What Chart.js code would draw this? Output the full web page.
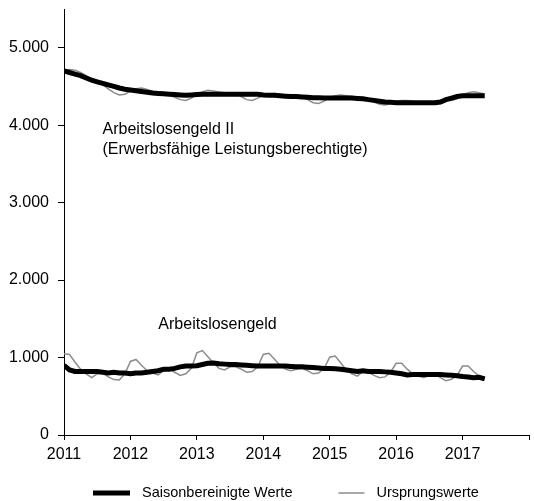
<!DOCTYPE html>
<html>
<head>
<meta charset="utf-8">
<script src="https://cdn.jsdelivr.net/npm/chart.js@4/dist/chart.umd.min.js"></script>
<style>
html,body{margin:0;padding:0;background:#fff;overflow:hidden}
#wrap{width:534px;height:501px;position:relative}
</style>
</head>
<body>
<div id="wrap"><canvas id="chart"></canvas></div>
<script>
// monthly values, Jan 2011 - May 2017 (in thousands of persons)
var startYear = 2011;
var endYear = 2018;
var yearTicks = [2011, 2012, 2013, 2014, 2015, 2016, 2017];
var valueTicks = [0, 1000, 2000, 3000, 4000, 5000];
var seriesNames = ['Saisonbereinigte Werte', 'Ursprungswerte'];

var alg2Sa = [
  4700, 4680, 4660, 4640, 4610, 4580, 4560, 4540, 4520, 4500, 4480, 4465,
  4455, 4445, 4435, 4425, 4415, 4410, 4405, 4400, 4395, 4390, 4385, 4390,
  4395, 4400, 4400, 4400, 4400, 4400, 4400, 4400, 4400, 4400, 4400, 4400,
  4390, 4385, 4385, 4380, 4375, 4370, 4370, 4365, 4360, 4355, 4355, 4350,
  4350, 4350, 4350, 4350, 4350, 4345, 4340, 4330, 4320, 4310, 4300, 4295,
  4290, 4290, 4290, 4290, 4290, 4290, 4290, 4290, 4300, 4330, 4350, 4370,
  4380, 4380, 4380, 4380, 4380
];
var alg2Orig = [
  4700, 4720, 4710, 4680, 4640, 4600, 4560, 4520, 4470, 4420, 4390, 4400,
  4440, 4470, 4480, 4460, 4440, 4420, 4410, 4390, 4360, 4330, 4320, 4350,
  4400, 4430, 4450, 4440, 4430, 4420, 4420, 4410, 4370, 4330, 4320, 4350,
  4390, 4400, 4410, 4400, 4390, 4380, 4380, 4360, 4330, 4290, 4280, 4310,
  4360, 4380, 4390, 4380, 4370, 4360, 4350, 4330, 4300, 4270, 4260, 4280,
  4310, 4320, 4320, 4310, 4300, 4300, 4300, 4300, 4310, 4320, 4320, 4340,
  4390, 4420, 4430, 4420, 4400
];
var alg1Sa = [
  900, 840, 820, 820, 820, 820, 820, 810, 800, 810, 800, 800,
  790, 800, 800, 810, 820, 830, 850, 850, 860, 880, 890, 890,
  895, 910, 925, 930, 920, 915, 910, 910, 905, 900, 895, 890,
  890, 890, 890, 890, 890, 885, 880, 880, 875, 870, 865, 860,
  860, 855, 850, 840, 830, 820, 830, 820, 820, 820, 815, 810,
  800, 790, 775, 780, 780, 780, 780, 780, 780, 775, 770, 765,
  755, 750, 740, 745, 725
];
var alg1Orig = [
  1050, 1040, 940, 850, 790, 740, 790, 800, 750, 715, 710, 790,
  950, 975, 900, 830, 800, 775, 830, 850, 810, 770, 790, 860,
  1060, 1090, 1010, 930, 860, 840, 880, 880, 850, 810, 820, 880,
  1040, 1055, 980, 900, 850, 830, 850, 860, 830, 790, 800, 860,
  1005, 1020, 930, 840, 790, 760, 820, 810, 770, 740, 750, 810,
  925, 925, 850, 790, 760, 740, 770, 780, 740, 700, 720, 770,
  890, 890, 820, 760, 720
];

// text labels inside the plot, anchored in data units
var notes = [
  { text: 'Arbeitslosengeld II', x: 2011.58, y: 3940 },
  { text: '(Erwerbsfähige Leistungsberechtigte)', x: 2011.58, y: 3680 },
  { text: 'Arbeitslosengeld', x: 2012.42, y: 1420 }
];

function toPoints(vals) {
  return vals.map(function (v, i) { return { x: startYear + i / 12, y: v }; });
}

var FONT = '"Liberation Sans", Arial, sans-serif';

var notesPlugin = {
  id: 'notes',
  afterDatasetsDraw: function (chart) {
    var ctx = chart.ctx, sx = chart.scales.x, sy = chart.scales.y;
    ctx.save();
    ctx.font = '16px ' + FONT;
    ctx.fillStyle = '#000';
    ctx.textAlign = 'left';
    ctx.textBaseline = 'middle';
    notes.forEach(function (n) {
      ctx.fillText(n.text, sx.getPixelForValue(n.x), sy.getPixelForValue(n.y));
    });
    ctx.restore();
  }
};

// legend under the axis: line sample + text, two entries on one row
var legendPlugin = {
  id: 'lineLegend',
  afterDraw: function (chart) {
    var ctx = chart.ctx, area = chart.chartArea;
    var ds = chart.data.datasets;
    var lens = [37, 26];
    var y = chart.height - 8;
    var x = area.left + 29;
    ctx.save();
    ctx.font = '14.5px ' + FONT;
    ctx.textBaseline = 'middle';
    ctx.textAlign = 'left';
    for (var i = 0; i < 2; i++) {
      ctx.beginPath();
      ctx.strokeStyle = ds[i].borderColor;
      ctx.lineWidth = ds[i].borderWidth;
      ctx.moveTo(x, y);
      ctx.lineTo(x + lens[i], y);
      ctx.stroke();
      x += lens[i] + 12;
      ctx.fillStyle = '#000';
      ctx.fillText(ds[i].label, x, y);
      x += ctx.measureText(ds[i].label).width + 46;
    }
    ctx.restore();
  }
};

var black = { borderColor: '#000', backgroundColor: '#000', borderWidth: 5, pointRadius: 0, tension: 0, fill: false };
var gray = { borderColor: '#8c8c8c', backgroundColor: '#8c8c8c', borderWidth: 1.5, pointRadius: 0, tension: 0, fill: false };

new Chart(document.getElementById('chart'), {
  type: 'line',
  data: {
    datasets: [
      Object.assign({ label: seriesNames[0], data: toPoints(alg2Sa) }, black),
      Object.assign({ label: seriesNames[1], data: toPoints(alg2Orig) }, gray),
      Object.assign({ label: seriesNames[0], data: toPoints(alg1Sa) }, black),
      Object.assign({ label: seriesNames[1], data: toPoints(alg1Orig) }, gray)
    ]
  },
  options: {
    responsive: true,
    maintainAspectRatio: false,
    animation: false,
    layout: { padding: { top: 0, right: 1, left: 0, bottom: 28 } },
    plugins: {
      tooltip: { enabled: false },
      legend: { display: false }
    },
    scales: {
      x: {
        type: 'linear',
        min: startYear,
        max: endYear,
        afterBuildTicks: function (s) {
          s.ticks = yearTicks.concat([endYear]).map(function (v) { return { value: v }; });
        },
        afterFit: function (s) { s.height = 38; },
        grid: { drawOnChartArea: false, tickLength: 5, color: '#000' },
        border: { display: true, color: '#000', width: 1 },
        ticks: {
          font: { family: FONT, size: 16 },
          color: '#000',
          padding: 5,
          maxRotation: 0,
          callback: function (v) { return yearTicks.indexOf(v) >= 0 ? String(v) : ''; }
        }
      },
      y: {
        min: 0,
        max: 5500,
        afterBuildTicks: function (s) {
          s.ticks = valueTicks.map(function (v) { return { value: v }; });
        },
        afterFit: function (s) {
          s.width = 64;
          s.paddingTop = 9;
          s.paddingBottom = 0;
        },
        grid: { drawOnChartArea: false, tickLength: 6, color: '#000' },
        border: { display: true, color: '#000', width: 1 },
        ticks: {
          font: { family: FONT, size: 16 },
          color: '#000',
          padding: 9,
          callback: function (v) { return v.toLocaleString('de-DE'); }
        }
      }
    }
  },
  plugins: [notesPlugin, legendPlugin]
});
</script>
</body>
</html>
